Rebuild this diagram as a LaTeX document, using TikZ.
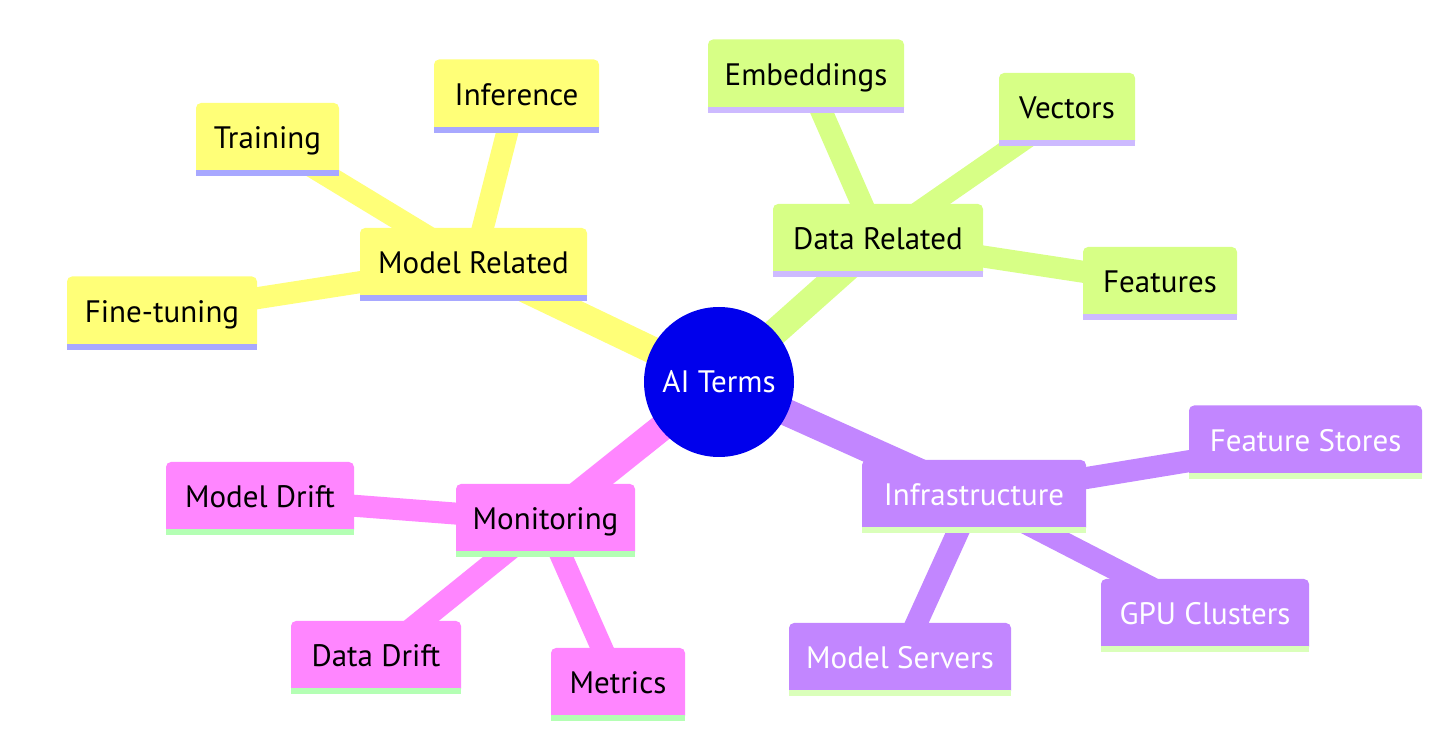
\documentclass[tikz,border=0pt]{standalone}
\usepackage{fontspec}
\setmainfont{PT Sans}
\pgfdeclarelayer{background}
\pgfsetlayers{background,main}
\definecolor{yfill}{RGB}{255,255,120}
\definecolor{yline}{RGB}{168,168,255}
\definecolor{ytext}{RGB}{0,0,0}
\definecolor{gfill}{RGB}{215,255,134}
\definecolor{gline}{RGB}{205,186,255}
\definecolor{gtext}{RGB}{0,0,0}
\definecolor{pfill}{RGB}{194,134,255}
\definecolor{pline}{RGB}{218,255,186}
\definecolor{ptext}{RGB}{255,255,255}
\definecolor{mfill}{RGB}{255,134,255}
\definecolor{mline}{RGB}{180,255,180}
\definecolor{mtext}{RGB}{0,0,0}
\definecolor{rootfill}{RGB}{0,0,236}
\tikzset{
  mmfont/.style={font=\fontsize{15.5pt}{18pt}\selectfont},
  mmbox/.style={mmfont, rectangle, rounded corners=2.5pt, inner sep=0pt,
    minimum height=36.5pt, text height=1.05em, text depth=0.12em},
  rootnode/.style={mmfont, circle, fill=rootfill, text=white, minimum size=75pt, inner sep=0pt},
  rootedge/.style={line width=13.5pt},
  leafedge/.style={line width=11pt},
}
\newcommand\mmbox[5]{%
  \node[mmbox, fill=#2fill, text=#2text, minimum width=#4] (#1) at (#3) {#5};
  \fill[#2line] (#1.south west) rectangle ([yshift=3pt]#1.south east);
}
\begin{document}
\begin{tikzpicture}[x=0.5pt,y=-0.5pt]
\useasboundingbox (0,0) rectangle (1456,747);
\node[rootnode] (root) at (719,382) {AI Terms};
% Model Related
\mmbox{mr}{y}{473.5,264.5}{113.5pt}{Model Related}
\mmbox{train}{y}{267.5,139.5}{71.5pt}{Training}
\mmbox{infer}{y}{516.5,96}{82.5pt}{Inference}
\mmbox{fine}{y}{162,313}{95pt}{Fine-tuning}
% Data Related
\mmbox{dr}{g}{878,240.5}{105pt}{Data Related}
\mmbox{emb}{g}{806,76}{98pt}{Embeddings}
\mmbox{vec}{g}{1067,109.5}{68pt}{Vectors}
\mmbox{feat}{g}{1160,283.5}{77pt}{Features}
% Infrastructure
\mmbox{infra}{p}{974,496.5}{112pt}{Infrastructure}
\mmbox{fstore}{p}{1305.5,442}{116.5pt}{Feature Stores}
\mmbox{gpu}{p}{1205,615.5}{104pt}{GPU Clusters}
\mmbox{serv}{p}{900,659.5}{111pt}{Model Servers}
% Monitoring
\mmbox{mon}{m}{545.5,520.5}{89.5pt}{Monitoring}
\mmbox{mdrift}{m}{260,498.5}{94pt}{Model Drift}
\mmbox{ddrift}{m}{376,657.5}{85pt}{Data Drift}
\mmbox{metr}{m}{618,684.5}{67pt}{Metrics}
\begin{pgfonlayer}{background}
\draw[rootedge, yfill] (root.center) -- (mr.center);
\draw[leafedge, yfill] (mr.center) -- (train.center);
\draw[leafedge, yfill] (mr.center) -- (infer.center);
\draw[leafedge, yfill] (mr.center) -- (fine.center);
\draw[rootedge, gfill] (root.center) -- (dr.center);
\draw[leafedge, gfill] (dr.center) -- (emb.center);
\draw[leafedge, gfill] (dr.center) -- (vec.center);
\draw[leafedge, gfill] (dr.center) -- (feat.center);
\draw[rootedge, pfill] (root.center) -- (infra.center);
\draw[leafedge, pfill] (infra.center) -- (fstore.center);
\draw[leafedge, pfill] (infra.center) -- (gpu.center);
\draw[leafedge, pfill] (infra.center) -- (serv.center);
\draw[rootedge, mfill] (root.center) -- (mon.center);
\draw[leafedge, mfill] (mon.center) -- (mdrift.center);
\draw[leafedge, mfill] (mon.center) -- (ddrift.center);
\draw[leafedge, mfill] (mon.center) -- (metr.center);
\end{pgfonlayer}
\end{tikzpicture}
\end{document}
